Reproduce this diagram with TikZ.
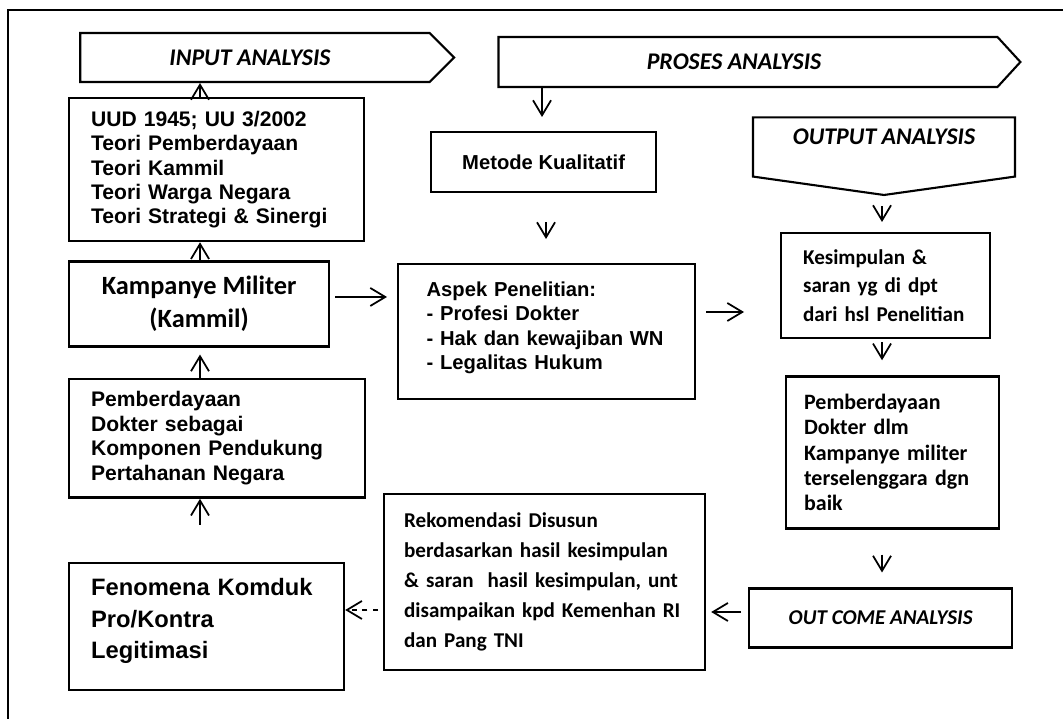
\documentclass[tikz,border=0pt]{standalone}
\usepackage{fontspec}
\setmainfont{Liberation Sans}
\newfontfamily\calibrifont{Carlito}
\usetikzlibrary{positioning,arrows.meta,shapes.symbols}

\begin{document}
\begin{tikzpicture}[x=0.02cm, y=-0.02cm,
    box/.style={draw, rectangle, line width=1.3pt, align=left, inner ysep=0pt},
    arialA/.style={font=\fontsize{12}{13.9}\selectfont\bfseries},
    arialB/.style={font=\fontsize{11.5}{13.9}\selectfont\bfseries},
    arialC/.style={font=\fontsize{13.5}{17.9}\selectfont\bfseries},
    calA/.style={font=\calibrifont\bfseries\fontsize{15}{18.7}\selectfont},
    calB/.style={font=\calibrifont\bfseries\fontsize{12}{16.2}\selectfont},
    calC/.style={font=\calibrifont\bfseries\fontsize{12.5}{14.5}\selectfont},
    calD/.style={font=\calibrifont\bfseries\fontsize{12}{17}\selectfont},
    hdr/.style={draw, signal, line width=1.2pt, inner sep=0pt, font=\calibrifont\bfseries\itshape\fontsize{13.6}{15}\selectfont},
    arr/.style={-{Straight Barb[length=3mm, width=3.6mm]}, line width=1pt},
]
\useasboundingbox (0,0) rectangle (1063,719);
\clip (0,0) rectangle (1063,719);

% Frame
\draw[line width=1pt] (8,10) rectangle (1120,780);

% Headers
\node[hdr, signal to=east, signal pointer angle=90, minimum width=7.48cm, minimum height=0.98cm] (input) at (255,57.5) {\hspace*{-0.2cm}INPUT ANALYSIS};
\node[hdr, signal to=east, signal pointer angle=95, minimum width=10.44cm, minimum height=1cm] (proses) at (748,62) {\hspace*{-0.56cm}PROSES ANALYSIS};
\node[hdr, signal to=south, signal pointer angle=164, minimum width=5.24cm, minimum height=1.44cm, text depth=0.42cm] (output) at (884,147) {OUTPUT ANALYSIS};

% Left column
\node[box, arialA, anchor=north west, minimum width=5.9cm, minimum height=2.86cm, text width=5.02cm, inner xsep=0.44cm] (uud) at (68,97)
    {UUD 1945; UU 3/2002\\Teori Pemberdayaan\\Teori Kammil\\Teori Warga Negara\\Teori Strategi \& Sinergi};
\node[box, calA, below=0.36cm of uud.south west, anchor=north west, minimum width=5.2cm, minimum height=1.7cm, align=center] (kamp)
    {Kampanye Militer\\(Kammil)};
\node[box, arialA, below=0.6cm of kamp.south west, anchor=north west, minimum width=5.92cm, minimum height=2.38cm, text width=5.04cm, inner xsep=0.44cm] (pemb)
    {Pemberdayaan\\Dokter sebagai\\Komponen Pendukung\\Pertahanan Negara};
\node[box, arialC, below=1.26cm of pemb.south west, anchor=north west, minimum width=5.5cm, minimum height=2.54cm, text width=4.62cm, inner xsep=0.44cm] (fen)
    {Fenomena Komduk\\Pro/Kontra\\Legitimasi\\[-0.5\baselineskip]\mbox{}};

% Middle column
\node[box, arialB, anchor=north west, minimum width=4.5cm, minimum height=1.2cm, align=center] (metode) at (430,131) {Metode Kualitatif};
\node[box, arialB, anchor=north west, minimum width=5.94cm, minimum height=2.7cm, text width=4.8cm, inner xsep=0.57cm] (asp) at (397,263)
    {Aspek Penelitian:\\- Profesi Dokter\\- Hak dan kewajiban WN\\- Legalitas Hukum\\[-0.5\baselineskip]\mbox{}};
\node[box, calD, anchor=north west, minimum width=6.42cm, minimum height=3.52cm, text width=5.62cm, inner xsep=0.4cm] (rek) at (383,493)
    {Rekomendasi Disusun\\berdasarkan hasil kesimpulan\\\& saran\ \ hasil kesimpulan, unt\\disampaikan kpd Kemenhan RI\\dan Pang TNI};

% Right column
\node[box, calB, anchor=north west, minimum width=4.18cm, minimum height=2.1cm, text width=3.3cm, inner xsep=0.44cm] (kes) at (780,232)
    {Kesimpulan \&\\saran yg di dpt\\dari hsl Penelitian};
\node[box, calC, below=0.72cm of kes.south west, xshift=0.1cm, anchor=north west, minimum width=4.26cm, minimum height=3.04cm, text width=3.54cm, inner xsep=0.36cm] (pemb2)
    {Pemberdayaan\\Dokter dlm\\Kampanye militer\\terselenggara dgn\\baik};
\node[box, below=1.16cm of pemb2.south west, xshift=-0.74cm, anchor=north west, minimum width=5.26cm, minimum height=1.18cm, align=center,
    font=\calibrifont\bfseries\itshape\fontsize{12}{14}\selectfont] (outcome) {OUT COME ANALYSIS};

% Arrows
\draw[arr] (uud.north -| 200,0) -- (input.south -| 200,0);
\draw[arr] (kamp.north -| 200,0) -- (uud.south -| 200,0);
\draw[arr, shorten >=0.14cm] (pemb.north -| 200,0) -- (kamp.south -| 200,0);
\draw[arr, shorten <=0.74cm] (fen.north -| 200,0) -- (pemb.south -| 200,0);
\draw[arr, shorten <=0.1cm, shorten >=0.2cm] (kamp.east |- 0,297) -- (asp.west |- 0,297);
\draw[arr, shorten >=0.28cm] (proses.south -| 542,0) -- (metode.north -| 542,0);
\draw[arr, shorten <=0.58cm, shorten >=0.48cm] (metode.south -| 546,0) -- (asp.north -| 546,0);
\draw[arr, shorten <=0.2cm, shorten >=0.72cm] (asp.east |- 0,312) -- (kes.west |- 0,312);
\draw[arr, shorten <=0.2cm, shorten >=0.2cm] (output.south -| 882,0) -- (kes.north -| 882,0);
\draw[arr, shorten <=0.06cm, shorten >=0.3cm] (kes.south -| 882,0) -- (pemb2.north -| 882,0);
\draw[arr, shorten <=0.5cm, shorten >=0.3cm] (pemb2.south -| 882,0) -- (outcome.north -| 882,0);
\draw[arr, shorten <=0.14cm, shorten >=0.1cm] (outcome.west |- 0,612) -- (rek.east |- 0,612);
\draw[arr, dashed, shorten <=0.1cm] (rek.west |- 0,610) -- (fen.east |- 0,610);
\end{tikzpicture}
\end{document}
